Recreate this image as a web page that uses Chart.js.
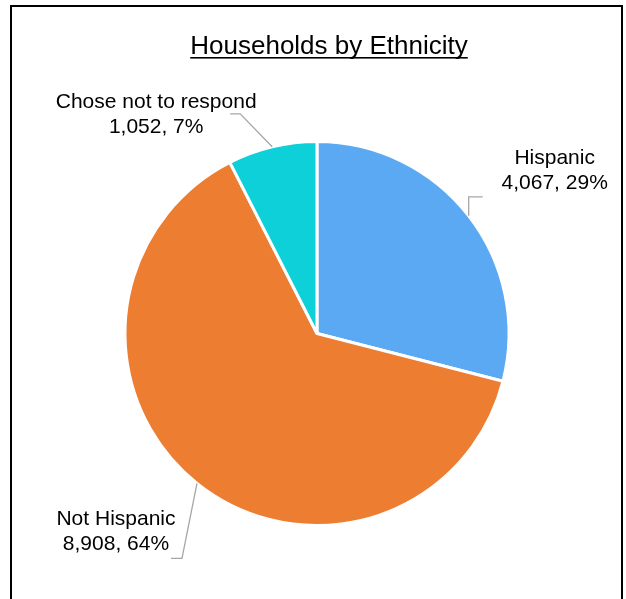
<!DOCTYPE html>
<html>
<head>
<meta charset="utf-8">
<script src="https://cdn.jsdelivr.net/npm/chart.js@4.4.1/dist/chart.umd.min.js"></script>
<style>
  html, body { margin: 0; padding: 0; background: #fff; }
  #wrap { position: relative; width: 626px; height: 599px; overflow: hidden; }
  #frame { position: absolute; left: 10px; top: 5px; width: 613px; height: 640px; border: 2px solid #000; box-sizing: border-box; }
  #chart { position: absolute; left: 0; top: 0; }
</style>
</head>
<body>
<div id="wrap">
  <div id="frame"></div>
  <canvas id="chart" width="626" height="599"></canvas>
</div>
<script>
const categories = ['Hispanic', 'Not Hispanic', 'Chose not to respond'];
const households = [4067, 8908, 1052];
const sliceColors = ['#5AA9F2', '#ED7D31', '#0DD0D9'];

// where each callout sits relative to the slice's outer mid point
const callouts = [
  {elbow: [0, -19], end: [14, -19], text: [86, -45]},
  {elbow: [-15, 75], end: [-26, 75], text: [-81, 48]},
  {elbow: [-32, -33], end: [-42, -33], text: [-116, -32]}
];

const total = households.reduce((a, b) => a + b, 0);

function fmt(n) {
  return n.toLocaleString('en-US');
}

const titlePlugin = {
  id: 'underlinedTitle',
  afterDraw(chart) {
    const ctx = chart.ctx;
    const text = 'Households by Ethnicity';
    ctx.save();
    ctx.font = '26px "Liberation Sans", Arial, sans-serif';
    ctx.fillStyle = '#000';
    ctx.textAlign = 'center';
    ctx.textBaseline = 'alphabetic';
    const x = 329, y = 54;
    ctx.fillText(text, x, y);
    const w = ctx.measureText(text).width;
    ctx.fillRect(x - w / 2, y + 3, w, 1.6);
    ctx.restore();
  }
};

const calloutPlugin = {
  id: 'callouts',
  afterDatasetsDraw(chart) {
    const ctx = chart.ctx;
    const arcs = chart.getDatasetMeta(0).data;
    ctx.save();
    arcs.forEach((arc, i) => {
      const mid = (arc.startAngle + arc.endAngle) / 2;
      const px = arc.x + Math.cos(mid) * arc.outerRadius;
      const py = arc.y + Math.sin(mid) * arc.outerRadius;
      const c = callouts[i];

      ctx.strokeStyle = '#A6A6A6';
      ctx.lineWidth = 1.3;
      ctx.beginPath();
      ctx.moveTo(px, py);
      ctx.lineTo(px + c.elbow[0], py + c.elbow[1]);
      ctx.lineTo(px + c.end[0], py + c.end[1]);
      ctx.stroke();

      const pct = Math.round(households[i] / total * 100);
      ctx.fillStyle = '#000';
      ctx.font = '21px "Liberation Sans", Arial, sans-serif';
      ctx.textAlign = 'center';
      ctx.textBaseline = 'middle';
      const tx = px + c.text[0], ty = py + c.text[1];
      ctx.fillText(categories[i], tx, ty - 12.5);
      ctx.fillText(fmt(households[i]) + ', ' + pct + '%', tx, ty + 12.5);
    });
    ctx.restore();
  }
};

new Chart(document.getElementById('chart'), {
  type: 'pie',
  data: {
    labels: categories,
    datasets: [{
      data: households,
      backgroundColor: sliceColors,
      borderColor: '#fff',
      borderWidth: 3
    }]
  },
  options: {
    responsive: false,
    animation: false,
    layout: { padding: { left: 123, right: 115, top: 140, bottom: 72 } },
    plugins: {
      legend: { display: false },
      tooltip: { enabled: false }
    }
  },
  plugins: [calloutPlugin, titlePlugin]
});
</script>
</body>
</html>
